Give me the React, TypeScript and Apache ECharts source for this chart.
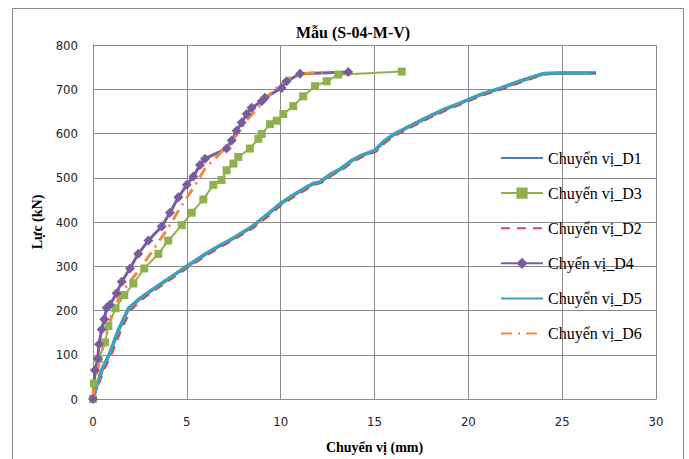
import React, { useEffect, useRef } from "react";
import * as echarts from "echarts";

const seriesNames = ["Chuyển vị_D1", "Chuyển vị_D3", "Chuyển vị_D2", "Chyển vị_D4", "Chuyển vị_D5", "Chuyển vị_D6"];

const xTicks = { min: 0, max: 30, interval: 5 };
const yTicks = { min: 0, max: 800, interval: 100 };

const d1: number[][] = [
  [0, 0], [0.2, 30], [0.5, 68], [0.9, 104], [1.35, 155], [1.9, 205], [2.5, 227], [3.1, 245], [4.0, 271],
  [4.9, 297], [5.9, 325], [6.4, 338], [7.5, 364], [8.5, 390], [9.3, 417], [10.0, 442], [10.8, 464],
  [11.7, 486], [12.1, 490], [12.6, 506], [13.2, 520], [13.8, 539], [14.3, 550], [15.0, 561], [15.5, 582],
  [16.0, 597], [16.9, 617], [17.8, 636], [18.7, 654], [19.6, 669], [20.6, 687], [21.7, 702], [22.8, 719],
  [24.0, 735], [25.0, 737], [26.8, 737],
];

const d3: number[][] = [
  [0, 0], [0.05, 35], [0.3, 90], [0.64, 128], [0.82, 165], [1.2, 205], [1.67, 235], [2.15, 261], [2.73, 295],
  [3.48, 328], [4.01, 358], [4.73, 393], [5.26, 421], [5.88, 451], [6.41, 484], [6.85, 495], [7.12, 517],
  [7.48, 532], [7.74, 547], [8.36, 566], [8.81, 588], [8.99, 599], [9.43, 621], [9.79, 629], [10.14, 644],
  [10.67, 662], [11.2, 684], [11.83, 707], [12.45, 718], [13.07, 733], [16.45, 740],
];

const d2: number[][] = [
  [0, 0], [0.25, 28], [0.6, 66], [1.0, 102], [1.45, 150], [2.0, 200], [2.6, 224], [3.2, 243], [4.1, 269],
  [5.0, 295], [6.0, 323], [6.5, 336], [7.6, 362], [8.6, 388], [9.4, 415], [10.1, 440], [10.9, 462],
  [11.8, 484], [12.2, 489], [12.7, 504], [13.3, 518], [13.9, 537], [14.4, 548], [15.1, 559], [15.6, 580],
  [16.1, 595], [17.0, 615], [17.9, 634], [18.8, 652], [19.7, 667], [20.7, 685], [21.8, 700], [22.9, 717],
  [24.1, 734], [25.0, 736], [26.0, 736],
];

const d4: number[][] = [
  [0, 0], [0.1, 65], [0.25, 91], [0.32, 124], [0.46, 157], [0.6, 180], [0.73, 206], [0.9, 213], [1.26, 239],
  [1.53, 265], [1.97, 295], [2.41, 328], [2.95, 358], [3.66, 390], [4.1, 421], [4.55, 456], [5.0, 484],
  [5.35, 503], [5.7, 529], [5.97, 543], [7.12, 566], [7.39, 584], [7.65, 606], [7.92, 625], [8.19, 644],
  [8.45, 658], [8.99, 673], [9.16, 681], [10.05, 703], [10.32, 718], [11.03, 735], [13.6, 739],
];

const d5: number[][] = [
  [0, 0], [0.2, 31], [0.5, 70], [0.9, 105], [1.35, 157], [1.9, 206], [2.5, 228], [3.1, 246], [4.0, 272],
  [4.9, 298], [5.9, 326], [6.4, 339], [7.5, 365], [8.5, 391], [9.3, 418], [10.0, 443], [10.8, 465],
  [11.7, 487], [12.1, 491], [12.6, 507], [13.2, 521], [13.8, 540], [14.3, 551], [15.0, 562], [15.5, 583],
  [16.0, 598], [16.9, 618], [17.8, 637], [18.7, 655], [19.6, 670], [20.6, 688], [21.7, 703], [22.8, 720],
  [24.0, 736], [25.0, 737], [26.5, 737],
];

const d6: number[][] = [
  [0, 0], [0.05, 27], [0.46, 105], [1.08, 202], [1.6, 245], [2.24, 280], [2.95, 321], [3.66, 365], [4.19, 399],
  [4.64, 432], [5.35, 477], [5.97, 521], [6.68, 551], [7.57, 592], [8.1, 625], [8.72, 655], [9.6, 696],
  [10.32, 722], [10.85, 733], [11.56, 737], [12.6, 739],
];

const colors = ["#4A7EBB", "#8EB14E", "#C0504D", "#7A5BA0", "#3FA2BD", "#EE8A3C"];
const noMarker = [true, false, true, false, true, true];

export default function App() {
  const ref = useRef<HTMLDivElement>(null);
  useEffect(() => {
    if (!ref.current) return;
    const chart = echarts.init(ref.current, undefined, { renderer: "svg" });
    const serif = "Liberation Serif";
    const narrow = "Liberation Sans Narrow, Arial Narrow, DejaVu Sans Condensed, sans-serif";
    const legendText = { fontFamily: serif, fontSize: 16, color: "#000" };
    chart.setOption({
      animation: false,
      backgroundColor: "#ffffff",
      title: {
        text: "Mẫu (S-04-M-V)",
        left: 348,
        textAlign: "center",
        top: 19,
        textStyle: { fontFamily: serif, fontSize: 16, fontWeight: "bold", color: "#000" },
      },
      graphic: [
        {
          type: "rect",
          shape: { x: 12.5, y: 8.5, width: 671, height: 470 },
          style: { fill: "none", stroke: "#8a8a8a", lineWidth: 1 },
          silent: true,
        },
      ],
      legend: {
        orient: "vertical",
        left: 495,
        top: 145,
        itemWidth: 42,
        itemHeight: 14,
        itemGap: 19.1,
        backgroundColor: "transparent",
        textStyle: legendText,
        data: seriesNames.map((n, i) =>
          noMarker[i]
            ? { name: n, textStyle: legendText, itemStyle: { opacity: 0 } }
            : { name: n, textStyle: legendText }
        ),
      },
      grid: { left: 93, right: 33, top: 45, bottom: 55, containLabel: false },
      xAxis: {
        type: "value",
        min: xTicks.min,
        max: xTicks.max,
        interval: xTicks.interval,
        name: "Chuyển vị (mm)",
        nameLocation: "middle",
        nameGap: 41,
        nameTextStyle: { fontFamily: serif, fontSize: 14, fontWeight: "bold", color: "#000" },
        axisLine: { show: true, lineStyle: { color: "#8a8a8a", width: 1 } },
        axisTick: { show: false },
        axisLabel: { fontFamily: narrow, fontSize: 13, color: "#222", margin: 16 },
        splitLine: { show: true, lineStyle: { color: "#8a8a8a", width: 1 } },
      },
      yAxis: {
        type: "value",
        min: yTicks.min,
        max: yTicks.max,
        interval: yTicks.interval,
        name: "Lực (kN)",
        nameLocation: "middle",
        nameGap: 44,
        nameRotate: 90,
        nameTextStyle: { fontFamily: serif, fontSize: 14, fontWeight: "bold", color: "#000" },
        axisLine: { show: true, lineStyle: { color: "#8a8a8a", width: 1 } },
        axisTick: { show: false },
        axisLabel: { fontFamily: narrow, fontSize: 13, color: "#222", margin: 15 },
        splitLine: { show: true, lineStyle: { color: "#8a8a8a", width: 1 } },
      },
      series: [
        {
          name: seriesNames[0], type: "line", data: d1, symbol: "none", color: colors[0],
          lineStyle: { width: 3.5, color: colors[0] },
        },
        {
          name: seriesNames[1], type: "line", data: d3, symbol: "rect", symbolSize: 8, color: colors[1],
          itemStyle: { color: colors[1] }, lineStyle: { width: 2, color: colors[1] },
        },
        {
          name: seriesNames[2], type: "line", data: d2, symbol: "none", color: colors[2],
          lineStyle: { width: 2, color: colors[2], type: [9, 7] },
        },
        {
          name: seriesNames[3], type: "line", data: d4, symbol: "diamond", symbolSize: 10, color: colors[3],
          itemStyle: { color: colors[3] }, lineStyle: { width: 3, color: colors[3] },
        },
        {
          name: seriesNames[4], type: "line", data: d5, symbol: "none", color: colors[4],
          lineStyle: { width: 3, color: colors[4] },
        },
        {
          name: seriesNames[5], type: "line", data: d6, symbol: "none", color: colors[5],
          lineStyle: { width: 3, color: colors[5], type: [11, 6, 2, 6] },
        },
      ],
    });
    return () => chart.dispose();
  }, []);
  return (
    <div
      ref={ref}
      style={{ position: "fixed", left: 0, top: 0, width: 689, height: 459, background: "#fff" }}
    />
  );
}
